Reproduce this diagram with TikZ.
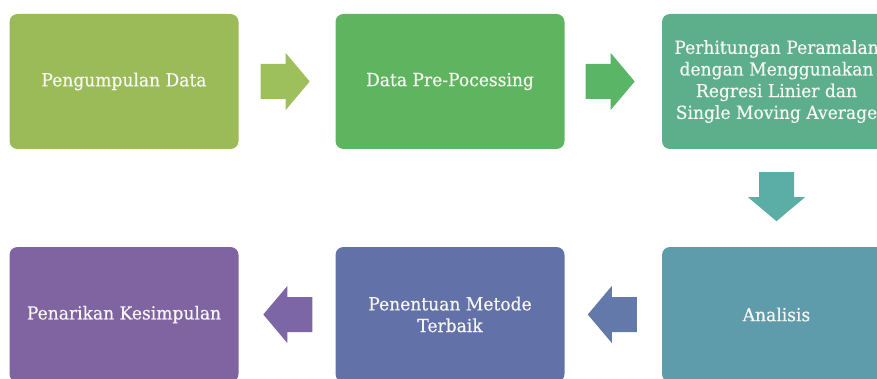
\documentclass[tikz,border=0pt]{standalone}
\usepackage{fontspec}
\setmainfont{DejaVu Serif}[FakeStretch=0.95,FakeBold=0.4]
\usepackage{xcolor}
\usetikzlibrary{calc}
\definecolor{gather}{HTML}{9BBB59}
\definecolor{gatherarr}{HTML}{9EC05C}
\definecolor{prep}{HTML}{5FB55F}
\definecolor{preparr}{HTML}{5BB567}
\definecolor{forecast}{HTML}{5DAF8C}
\definecolor{forecastarr}{HTML}{5BAEA6}
\definecolor{analysis}{HTML}{5E9CAB}
\definecolor{analysisarr}{HTML}{6279AA}
\definecolor{best}{HTML}{6371A9}
\definecolor{bestarr}{HTML}{7C66A5}
\definecolor{concl}{HTML}{8064A2}
\definecolor{label}{HTML}{F7F7F2}
\tikzset{
  stage/.style={rounded corners=8pt, minimum width=229pt, minimum height=135pt,
    inner sep=0pt, align=center, text=label, font=\fontsize{18}{21.7}\selectfont},
}
% block arrow: #1 start coordinate, #2 rotation, #3 colour
\newcommand{\blockarrow}[3]{%
  \fill[#3, shift={(#1)}, rotate=#2] (0,-17.5) -- (25,-17.5) -- (25,-28.5) -- (49,0)
    -- (25,28.5) -- (25,17.5) -- (0,17.5) -- cycle;}

\begin{document}
\begin{tikzpicture}[x=1pt,y=-1pt]
  \useasboundingbox (0,0) rectangle (877,379);
  \clip (0,0) rectangle (877,379);

  % top row
  \node[stage, fill=gather] (b1) at (124,81.5) {Pengumpulan Data};
  \node[stage, fill=prep] (b2) at (450,81.5) {Data Pre-Pocessing};
  \node[stage, fill=forecast] (b3) at (776.5,81.5)
    {Perhitungan Peramalan\\dengan Menggunakan\\Regresi Linier dan\\Single Moving Average};

  % bottom row
  \node[stage, fill=concl] (b4) at (124,314.5) {Penarikan Kesimpulan};
  \node[stage, fill=best] (b5) at (450,314.5) {Penentuan Metode\\Terbaik};
  \node[stage, fill=analysis] (b6) at (776.5,314.5) {Analisis};

  % arrows
  \coordinate (g12) at ($(b1.east)+(22,0)$);
  \coordinate (g23) at ($(b2.east)+(21,0)$);
  \coordinate (g36) at ($(b3.south)+(0,23)$);
  \coordinate (g65) at ($(b6.west)+(-25,0)$);
  \coordinate (g54) at ($(b5.west)+(-23,0)$);
  \blockarrow{g12}{0}{gatherarr}
  \blockarrow{g23}{0}{preparr}
  \blockarrow{g36}{-90}{forecastarr}
  \blockarrow{g65}{180}{analysisarr}
  \blockarrow{g54}{180}{bestarr}
\end{tikzpicture}
\end{document}
